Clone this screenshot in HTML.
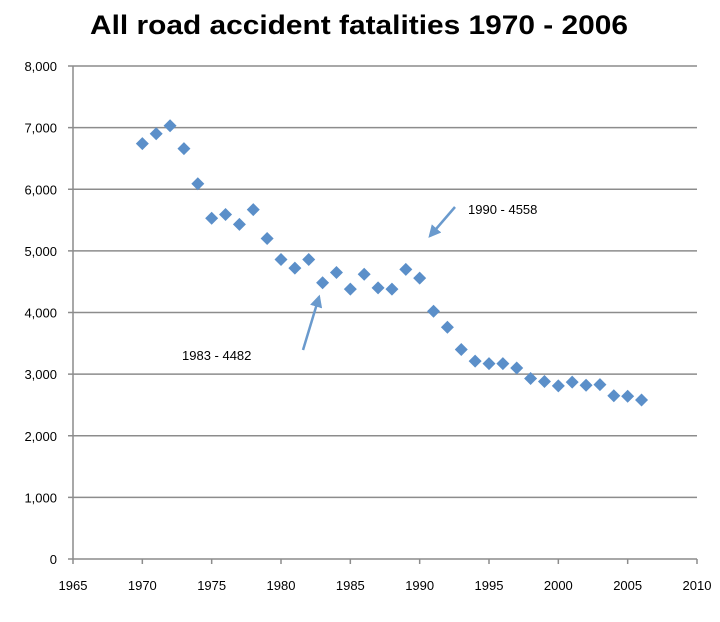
<!DOCTYPE html>
<html><head><meta charset="utf-8"><style>
body{margin:0;background:#fff;}
svg text{font-family:"Liberation Sans",sans-serif;fill:#000;}
</style></head><body>
<svg id="chart" width="720" height="617" xmlns="http://www.w3.org/2000/svg">
<text x="359" y="34" text-anchor="middle" font-size="27" font-weight="bold" textLength="538" lengthAdjust="spacingAndGlyphs">All road accident fatalities  1970 - 2006</text>
<g id="grid"></g><g id="axes"></g><g id="points"></g>
<defs><marker id="ah" markerWidth="5" markerHeight="5" refX="4" refY="2.5" orient="auto"><path d="M0,0 L5,2.5 L0,5 z" fill="#6a9acd"/></marker></defs>
<line x1="303" y1="350" x2="319" y2="297" stroke="#6a9acd" stroke-width="2.5" marker-end="url(#ah)"/>
<text x="182" y="360" font-size="13">1983 - 4482</text>
<line x1="455" y1="207" x2="430" y2="236" stroke="#6a9acd" stroke-width="2.5" marker-end="url(#ah)"/>
<text x="468" y="214" font-size="13">1990 - 4558</text>
</svg>
<script>
const years=[1970,1971,1972,1973,1974,1975,1976,1977,1978,1979,1980,1981,1982,1983,1984,1985,1986,1987,1988,1989,1990,1991,1992,1993,1994,1995,1996,1997,1998,1999,2000,2001,2002,2003,2004,2005,2006];
const fatalities=[6740,6900,7030,6660,6090,5530,5590,5430,5670,5200,4860,4720,4860,4482,4650,4380,4620,4400,4380,4700,4558,4020,3760,3400,3210,3170,3170,3100,2930,2880,2810,2870,2820,2830,2650,2640,2580];
const yTicks=[0,1000,2000,3000,4000,5000,6000,7000,8000];
const xTicks=[1965,1970,1975,1980,1985,1990,1995,2000,2005,2010];
const NS="http://www.w3.org/2000/svg";
const X0=73,X1=697,Y0=559,Y1=66;
const sx=v=>X0+(v-1965)/(2010-1965)*(X1-X0);
const sy=v=>Y0-v/8000*(Y0-Y1);
function mk(t,a,p){const e=document.createElementNS(NS,t);for(const k in a)e.setAttribute(k,a[k]);p.appendChild(e);return e;}
const g=document.getElementById('grid'),ax=document.getElementById('axes'),pt=document.getElementById('points');
yTicks.forEach(v=>{
 if(v>0){const l=mk('line',{x1:X0,x2:X1,y1:sy(v),y2:sy(v),stroke:'#8c8c8c','stroke-width':1.5},g);
 
 }
 const tk=mk('line',{x1:X0-5,x2:X0,y1:sy(v),y2:sy(v),stroke:'#8c8c8c','stroke-width':1.5},ax);
 
 
 const t=mk('text',{x:X0-16,y:sy(v)+5,'text-anchor':'end','font-size':13},ax);
 t.textContent=v.toLocaleString('en-US');
 
 
});
xTicks.forEach(v=>{
 const tk=mk('line',{x1:sx(v),x2:sx(v),y1:Y0,y2:Y0+5,stroke:'#8c8c8c','stroke-width':1.5},ax);
 
 
 const t=mk('text',{x:sx(v),y:Y0+31,'text-anchor':'middle','font-size':13},ax);
 t.textContent=v;
 
 
});
const ya=mk('line',{x1:X0,x2:X0,y1:Y1,y2:Y0,stroke:'#8c8c8c','stroke-width':1.5},ax);


const xa=mk('line',{x1:X0,x2:X1,y1:Y0,y2:Y0,stroke:'#8c8c8c','stroke-width':1.5},ax);


years.forEach((yr,i)=>{
 const cx=sx(yr),cy=sy(fatalities[i]),r=6.5;
 const p=mk('polygon',{points:`${cx},${cy-r} ${cx+r},${cy} ${cx},${cy+r} ${cx-r},${cy}`,fill:'#5b8fc9'},pt);
 
 
});
</script>
</body></html>
